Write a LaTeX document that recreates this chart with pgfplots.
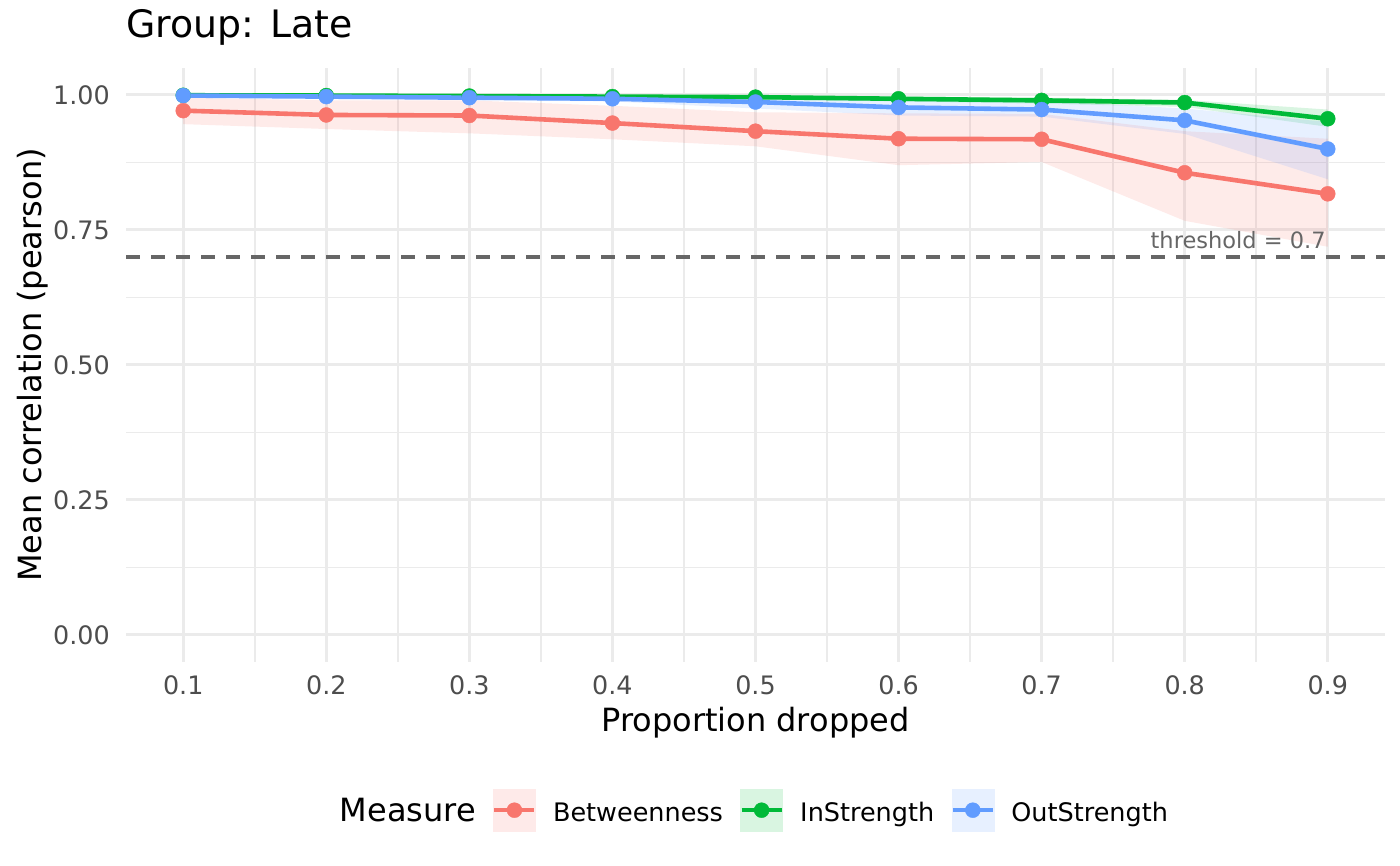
\documentclass[border=0pt]{standalone}
\usepackage{fontspec}
\setmainfont{DejaVu Sans}
\usepackage{pgfplots}
\pgfplotsset{compat=1.18}
\definecolor{cB}{HTML}{F8766D}
\definecolor{cI}{HTML}{00BA38}
\definecolor{cO}{HTML}{619CFF}
\definecolor{gridc}{HTML}{EBEBEB}
\definecolor{tickc}{HTML}{4D4D4D}
\definecolor{thr}{HTML}{666666}
\begin{document}
\begin{tikzpicture}
\useasboundingbox (0pt,0pt) rectangle (1400pt,866pt);
\begin{axis}[
  at={(126pt,204pt)}, anchor=south west,
  scale only axis, width=1259pt, height=594pt,
  xmin=0.06, xmax=0.94, ymin=-0.05, ymax=1.05,
  axis line style={draw=none},
  major tick length=0pt, minor tick length=0pt,
  xtick={0.1,0.2,0.3,0.4,0.5,0.6,0.7,0.8,0.9},
  ytick={0,0.25,0.5,0.75,1},
  minor x tick num=1, minor y tick num=1,
  grid=both,
  major grid style={color=gridc, line width=3pt},
  minor grid style={color=gridc, line width=1.5pt},
  /pgf/number format/assume math mode=true,
  xticklabel={\pgfmathprintnumber[fixed,fixed zerofill,precision=1]{\tick}},
  yticklabel={\pgfmathprintnumber[fixed,fixed zerofill,precision=2]{\tick}},
  xticklabel style={font=\fontsize{25.4}{30}\selectfont, text=tickc, inner sep=0pt, text height=18.5pt, text depth=0pt, anchor=north},
  yticklabel style={font=\fontsize{25.4}{30}\selectfont, text=tickc, inner sep=0pt, text height=18.5pt, text depth=0pt, anchor=east},
  xticklabel shift=14pt, yticklabel shift=16pt,
  xlabel={Proportion dropped},
  ylabel={Mean correlation (pearson)},
  xlabel style={font=\fontsize{32}{38}\selectfont, at={(axis description cs:0.5,-0.1178)}, anchor=base, inner sep=0pt},
  ylabel style={font=\fontsize{32}{38}\selectfont, at={(axis description cs:-0.0675,0.5)}, anchor=base, inner sep=0pt},
  title={Group: Late},
  title style={font=\fontsize{37.8}{44}\selectfont, at={(axis description cs:0,1.0404)}, anchor=base west, inner sep=0pt},
  legend columns=4,
  legend style={at={(axis description cs:0.1569,-0.2495)}, anchor=west, draw=none, fill=none, inner sep=0pt, outer sep=0pt,
    font=\fontsize{25.5}{30}\selectfont, column sep=16.3pt,
    nodes={inner sep=0pt, text height=18.6pt, text depth=0pt}},
]
% threshold
\addplot[forget plot, thr, line width=3.6pt, dash pattern=on 14pt off 11pt] coordinates {(0.06,0.7) (0.94,0.7)};
% ribbons
\addplot[forget plot, draw=none, fill=cB, fill opacity=0.15] coordinates {
(0.1,0.995)(0.2,0.990)(0.3,0.990)(0.4,0.980)(0.5,0.968)(0.6,0.966)(0.7,0.965)(0.8,0.933)(0.9,0.919)
(0.9,0.719)(0.8,0.767)(0.7,0.876)(0.6,0.870)(0.5,0.905)(0.4,0.918)(0.3,0.929)(0.2,0.937)(0.1,0.946)} -- cycle;
\addplot[forget plot, draw=none, fill=cI, fill opacity=0.15] coordinates {
(0.1,1.000)(0.2,1.000)(0.3,1.000)(0.4,0.999)(0.5,0.999)(0.6,0.997)(0.7,0.995)(0.8,0.991)(0.9,0.973)
(0.9,0.941)(0.8,0.978)(0.7,0.984)(0.6,0.988)(0.5,0.992)(0.4,0.994)(0.3,0.995)(0.2,0.997)(0.1,0.999)} -- cycle;
\addplot[forget plot, draw=none, fill=cO, fill opacity=0.15] coordinates {
(0.1,1.000)(0.2,0.999)(0.3,0.998)(0.4,0.997)(0.5,0.994)(0.6,0.990)(0.7,0.989)(0.8,0.975)(0.9,0.950)
(0.9,0.844)(0.8,0.928)(0.7,0.960)(0.6,0.962)(0.5,0.975)(0.4,0.988)(0.3,0.991)(0.2,0.994)(0.1,0.997)} -- cycle;
% lines
\addplot[forget plot, cB, line width=4.6pt] coordinates {(0.1,0.971)(0.2,0.963)(0.3,0.962)(0.4,0.948)(0.5,0.933)(0.6,0.919)(0.7,0.918)(0.8,0.856)(0.9,0.817)};
\addplot[forget plot, cI, line width=4.6pt] coordinates {(0.1,0.9995)(0.2,0.999)(0.3,0.998)(0.4,0.997)(0.5,0.996)(0.6,0.993)(0.7,0.990)(0.8,0.986)(0.9,0.956)};
\addplot[forget plot, cO, line width=4.6pt] coordinates {(0.1,0.999)(0.2,0.997)(0.3,0.995)(0.4,0.993)(0.5,0.987)(0.6,0.977)(0.7,0.973)(0.8,0.953)(0.9,0.900)};
% points
\addplot[forget plot, cB, only marks, mark=*, mark size=7.5pt, mark options={draw=none, fill=cB}] coordinates {(0.1,0.971)(0.2,0.963)(0.3,0.962)(0.4,0.948)(0.5,0.933)(0.6,0.919)(0.7,0.918)(0.8,0.856)(0.9,0.817)};
\addplot[forget plot, cI, only marks, mark=*, mark size=7.5pt, mark options={draw=none, fill=cI}] coordinates {(0.1,0.9995)(0.2,0.999)(0.3,0.998)(0.4,0.997)(0.5,0.996)(0.6,0.993)(0.7,0.990)(0.8,0.986)(0.9,0.956)};
\addplot[forget plot, cO, only marks, mark=*, mark size=7.5pt, mark options={draw=none, fill=cO}] coordinates {(0.1,0.999)(0.2,0.997)(0.3,0.995)(0.4,0.993)(0.5,0.987)(0.6,0.977)(0.7,0.973)(0.8,0.953)(0.9,0.900)};
% threshold label
\node[anchor=base east, font=\fontsize{22.5}{26}\selectfont, text=thr, inner sep=0pt] at (axis cs:0.9,0.7) [xshift=-2pt, yshift=8pt] {threshold = 0.7};
% legend
\addlegendimage{empty legend}
\addlegendentry{\fontsize{32}{38}\selectfont Measure}
\addlegendimage{legend image code/.code={
  \fill[cB!15] (0pt,-18.7pt) rectangle (42pt,23.3pt);
  \draw[cB, line width=4.6pt] (1pt,2.3pt) -- (41pt,2.3pt);
  \fill[cB] (21pt,2.3pt) circle (7.5pt);}}
\addlegendentry{Betweenness}
\addlegendimage{legend image code/.code={
  \fill[cI!15] (0pt,-18.7pt) rectangle (42pt,23.3pt);
  \draw[cI, line width=4.6pt] (1pt,2.3pt) -- (41pt,2.3pt);
  \fill[cI] (21pt,2.3pt) circle (7.5pt);}}
\addlegendentry{InStrength}
\addlegendimage{legend image code/.code={
  \fill[cO!15] (0pt,-18.7pt) rectangle (42pt,23.3pt);
  \draw[cO, line width=4.6pt] (1pt,2.3pt) -- (41pt,2.3pt);
  \fill[cO] (21pt,2.3pt) circle (7.5pt);}}
\addlegendentry{OutStrength}
\end{axis}
\end{tikzpicture}
\end{document}
